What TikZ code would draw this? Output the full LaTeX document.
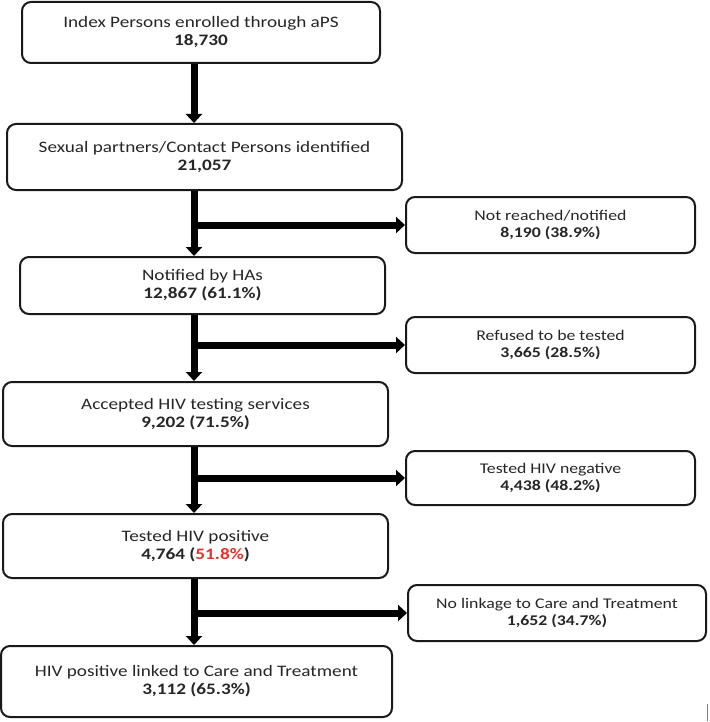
\documentclass[tikz,border=0pt]{standalone}
\usepackage{fontspec}
\setmainfont{Carlito}[FakeStretch=1.2]
\usetikzlibrary{arrows.meta}
\definecolor{txt}{HTML}{262626}
\definecolor{redtxt}{HTML}{E8302A}
\begin{document}
\begin{tikzpicture}[x=1pt,y=-1pt,
  box/.style={draw=black!90, line width=2pt, rounded corners=9pt, align=center,
    inner sep=0pt, font=\fontsize{16}{18}\selectfont, text=txt},
  sidebox/.style={box, font=\fontsize{14.8}{16.5}\selectfont},
  arr/.style={line width=7pt, black, -{Triangle[length=9pt,width=16pt]}},
  branch/.style={line width=7pt, black, -{Triangle[length=9pt,width=16pt]}}]
\useasboundingbox (0,0) rectangle (709,722);
\coordinate (xl) at (194,0);

\node[box, minimum width=358pt, minimum height=61pt] (b1) at (201,32.5)
  {Index Persons enrolled through aPS\\\textbf{18,730}};
\node[box, minimum width=395pt, minimum height=66pt] (b2) at (204.5,157)
  {Sexual partners/Contact Persons identified\\\textbf{21,057}};
\node[sidebox, minimum width=289pt, minimum height=56pt] (nr) at (550.5,225)
  {Not reached/notified\\\textbf{8,190 (38.9\%)}};
\node[box, minimum width=365pt, minimum height=57pt] (b3) at (202.5,285.5)
  {Notified by HAs\\\textbf{12,867 (61.1\%)}};
\node[sidebox, minimum width=289pt, minimum height=56pt] (rf) at (550.5,345)
  {Refused to be tested\\\textbf{3,665 (28.5\%)}};
\node[box, minimum width=385pt, minimum height=64pt] (b4) at (195.5,414)
  {Accepted HIV testing services\\\textbf{9,202 (71.5\%)}};
\node[sidebox, minimum width=289pt, minimum height=54pt] (tn) at (550.5,478)
  {Tested HIV negative\\\textbf{4,438 (48.2\%)}};
\node[box, minimum width=385pt, minimum height=64pt] (b5) at (195.5,546)
  {Tested HIV positive\\\textbf{4,764 (\textcolor{redtxt}{51.8\%})}};
\node[sidebox, minimum width=298pt, minimum height=56pt] (nl) at (557,613)
  {No linkage to Care and Treatment\\\textbf{1,652 (34.7\%)}};
\node[box, minimum width=391pt, minimum height=71pt] (b6) at (196.5,681.5)
  {HIV positive linked to Care and Treatment\\\textbf{3,112 (65.3\%)}};

\draw[arr] (b1.south -| xl) -- (b2.north -| xl);
\draw[arr] (b2.south -| xl) -- (b3.north -| xl);
\draw[arr] (b3.south -| xl) -- (b4.north -| xl);
\draw[arr] (b4.south -| xl) -- (b5.north -| xl);
\draw[arr] (b5.south -| xl) -- (b6.north -| xl);

\draw[branch] ([xshift=-3.5pt]xl |- nr.west) -- (nr.west);
\draw[branch] ([xshift=-3.5pt]xl |- rf.west) -- (rf.west);
\draw[branch] ([xshift=-3.5pt]xl |- tn.west) -- (tn.west);
\draw[branch] ([xshift=-3.5pt]xl |- nl.west) -- (nl.west);

\draw[gray, line width=0.8pt] (707.5,704) -- (707.5,721);
\end{tikzpicture}
\end{document}
